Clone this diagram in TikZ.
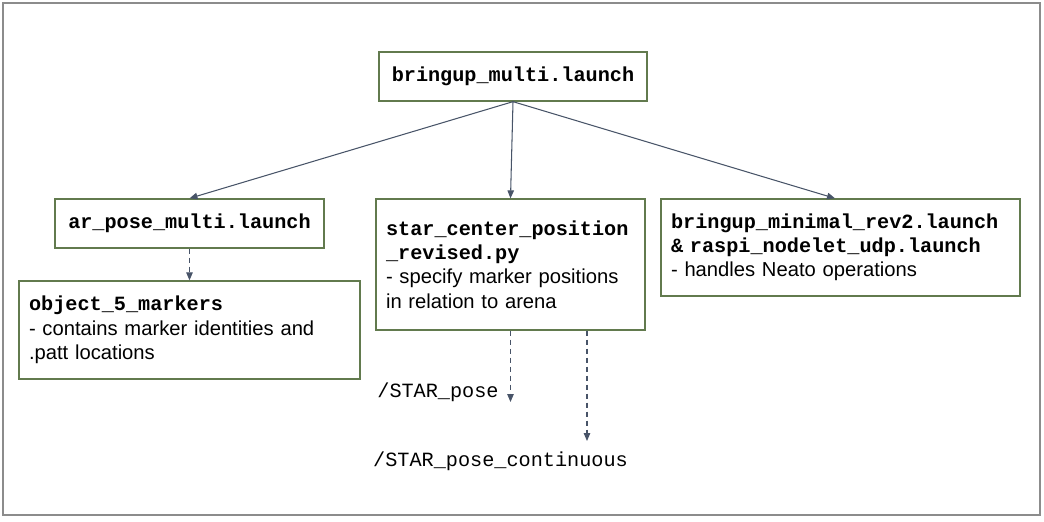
\documentclass[tikz,border=0pt]{standalone}
\usepackage{fontspec}
\setmainfont{Liberation Sans}
\newfontfamily\codefont{Liberation Mono}
\usetikzlibrary{arrows.meta, positioning}

\definecolor{boxline}{RGB}{98,122,78}
\definecolor{arrowline}{RGB}{72,84,104}
\definecolor{frameline}{RGB}{140,140,140}

\newcommand{\fname}[1]{{\codefont\bfseries #1}}

\begin{document}
\begin{tikzpicture}[
    x=0.02cm, y=-0.02cm,
    >={Triangle[length=1.6mm,width=1.3mm]},
    filenode/.style={draw=boxline, line width=0.75pt, rectangle,
        fill=white, inner xsep=0.2cm, inner ysep=0pt,
        font=\fontsize{11.5}{13.8}\selectfont},
    topicnode/.style={inner sep=0pt, font=\codefont\fontsize{11.5}{13.8}\selectfont},
    link/.style={->, draw=arrowline, line width=0.6pt},
    dashlink/.style={link, dash pattern=on 0.1cm off 0.08cm}
]
\useasboundingbox (0,0) rectangle (1044,521);
\draw[frameline, line width=0.6pt] (3,3) rectangle (1040,515);

% Nodes
\node[filenode, minimum width=5.36cm, minimum height=0.98cm, align=center]
    (bringup) at (513,76.5) {\fname{bringup\_multi.launch}};
\node[filenode, minimum width=5.38cm, minimum height=0.98cm, align=center]
    (arpose) at (189.5,223.5) {\fname{ar\_pose\_multi.launch}};
\node[filenode, minimum width=6.82cm, minimum height=1.96cm,
    text width=6.42cm, align=left] (markers) at (189.5,330) {%
    \fname{object\_5\_markers}\\
    - contains marker identities and\\
    .patt locations};
\node[filenode, minimum width=5.38cm, minimum height=2.62cm,
    text width=4.98cm, align=left] (starcenter) at (510.5,264.5) {%
    \fname{star\_center\_position}\\
    \fname{\_revised.py}\\
    - specify marker positions\\
    in relation to arena\\[8pt]};
\node[filenode, minimum width=7.18cm, minimum height=1.94cm,
    text width=6.78cm, align=left] (minimal) at (840.5,247.5) {%
    \fname{bringup\_minimal\_rev2.launch}\\
    \fname{\& raspi\_nodelet\_udp.launch}\\
    - handles Neato operations};

\coordinate (poseend) at (510.5,402);
\coordinate (contend) at (587,441);
\node[topicnode] (posetopic) at (438,392) {/STAR\_pose};
\node[topicnode] (conttopic) at (500.5,461) {/STAR\_pose\_continuous};

% Paths
\draw[link] (bringup.south) -- (arpose.north);
\draw[link] (bringup.south) -- (starcenter.north);
\draw[link] (bringup.south) -- ([xshift=-0.11cm]minimal.north);
\draw[dashlink] (arpose.south) -- (markers.north);
\draw[dashlink] (starcenter.south) -- (poseend);
\draw[dashlink] (starcenter.south -| contend) -- (contend);

\end{tikzpicture}
\end{document}
